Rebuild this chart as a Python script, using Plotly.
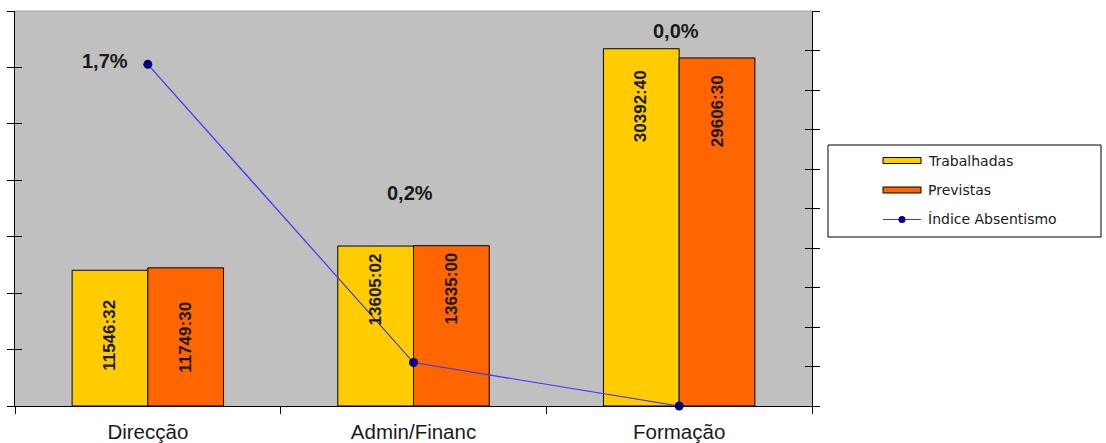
import plotly.graph_objects as go

categories = ["Direcção", "Admin/Financ", "Formação"]
trabalhadas = [11546 + 32/60, 13605 + 2/60, 30392 + 40/60]      # hours
previstas = [11749 + 30/60, 13635 + 0/60, 29606 + 30/60]        # hours
trab_labels = ["11546:32", "13605:02", "30392:40"]
prev_labels = ["11749:30", "13635:00", "29606:30"]
indice = [1.73, 0.22, 0.0]                                       # %
indice_labels = ["1,7%", "0,2%", "0,0%"]
series_names = ["Trabalhadas", "Previstas", "Índice Absentismo"]

# label placement (data units / pixel offsets)
trab_label_y = [6040, 9870, 25520]
prev_label_y = [5870, 9950, 25090]
pct_label_dx = [-43, -4, -3]
pct_label_dy = [3, 170, 375]

FONT = "Liberation Sans, Arial, sans-serif"
LEG_FONT = "DejaVu Sans, Verdana, sans-serif"
C_TRAB, C_PREV = "#FFCC00", "#FF6600"
C_LINE, C_MARK = "#3838FF", "#000080"
Y_MAX = 33600
Y2_MAX = 2.0

# plot-area pixel frame (for paper-coordinate conversion of legend items)
L, R, T, B = 15, 812, 11, 406
def px(xp): return (xp - L) / (R - L)
def py(yp): return (B - yp) / (B - T)

fig = go.Figure()
fig.add_trace(go.Bar(
    x=categories, y=trabalhadas, name=series_names[0],
    marker=dict(color=C_TRAB, line=dict(color="#000000", width=1)),
    hoverinfo="y", showlegend=False,
))
fig.add_trace(go.Bar(
    x=categories, y=previstas, name=series_names[1],
    marker=dict(color=C_PREV, line=dict(color="#000000", width=1)),
    hoverinfo="y", showlegend=False,
))
fig.add_trace(go.Scatter(
    x=categories, y=indice, name=series_names[2], yaxis="y2",
    mode="lines+markers",
    line=dict(color=C_LINE, width=1.2),
    marker=dict(color=C_MARK, size=9),
    cliponaxis=False, showlegend=False,
))
# invisible traces to activate tick-only overlay axes (crossing ticks)
fig.add_trace(go.Scatter(x=[categories[0]], y=[0], yaxis="y3", mode="markers",
                         marker=dict(opacity=0), showlegend=False, hoverinfo="skip"))
fig.add_trace(go.Scatter(x=[categories[0]], y=[0], yaxis="y4", mode="markers",
                         marker=dict(opacity=0), showlegend=False, hoverinfo="skip"))

annotations = []
for i, c in enumerate(categories):
    annotations.append(dict(
        x=c, y=trab_label_y[i], xref="x", yref="y", text=trab_labels[i],
        textangle=-90, showarrow=False, xshift=-38,
        font=dict(family=FONT, size=17, color="#1a1a1a", weight="bold"),
    ))
    annotations.append(dict(
        x=c, y=prev_label_y[i], xref="x", yref="y", text=prev_labels[i],
        textangle=-90, showarrow=False, xshift=38,
        font=dict(family=FONT, size=17, color="#1a1a1a", weight="bold"),
    ))
    annotations.append(dict(
        x=c, y=indice[i], xref="x", yref="y2", text=indice_labels[i],
        showarrow=False, xshift=pct_label_dx[i], yshift=pct_label_dy[i],
        font=dict(family=FONT, size=20, color="#1a1a1a", weight="bold"),
    ))

shapes = [
    # top border of plot area
    dict(type="line", xref="paper", yref="paper", x0=0, x1=1, y0=1, y1=1,
         line=dict(color="#A0A0A0", width=1)),
    # legend frame
    dict(type="rect", xref="paper", yref="paper",
         x0=px(828), x1=px(1101), y0=py(237), y1=py(145),
         line=dict(color="#000000", width=1), fillcolor="#FFFFFF"),
]

# manual legend (swatches + names)
row_y = [160.5, 190, 219.5]
sw_x0, sw_x1, txt_x = 883, 921, 926
for k, col in enumerate([C_TRAB, C_PREV]):
    shapes.append(dict(type="rect", xref="paper", yref="paper",
                       x0=px(sw_x0), x1=px(sw_x1),
                       y0=py(row_y[k] + 3), y1=py(row_y[k] - 3),
                       line=dict(color="#000000", width=1), fillcolor=col))
shapes.append(dict(type="line", xref="paper", yref="paper",
                   x0=px(sw_x0), x1=px(sw_x1), y0=py(row_y[2]), y1=py(row_y[2]),
                   line=dict(color=C_LINE, width=1.2)))
shapes.append(dict(type="circle", xref="paper", yref="paper",
                   x0=px(902 - 3.5), x1=px(902 + 3.5),
                   y0=py(row_y[2] + 3.5), y1=py(row_y[2] - 3.5),
                   line=dict(color=C_MARK, width=0), fillcolor=C_MARK))
for k, name in enumerate(series_names):
    annotations.append(dict(
        x=px(txt_x), y=py(row_y[k]), xref="paper", yref="paper", text=name,
        xanchor="left", yanchor="middle", showarrow=False,
        font=dict(family=LEG_FONT, size=14, color="#1a1a1a"),
    ))

fig.update_layout(
    width=1106, height=443,
    margin=dict(l=L, r=1106 - R, t=T, b=443 - B, autoexpand=False),
    paper_bgcolor="#FFFFFF", plot_bgcolor="#C0C0C0",
    barmode="group", bargap=0.43, bargroupgap=0,
    font=dict(family=FONT, color="#1a1a1a"),
    showlegend=False,
    xaxis=dict(
        type="category", range=[-0.5, 2.5], automargin=False,
        showline=True, linecolor="#000000", linewidth=1,
        ticks="outside", ticklen=7, tickcolor="#000000", tickson="boundaries",
        tickfont=dict(family=FONT, size=20.5, color="#1a1a1a"),
        showgrid=False, ticklabelstandoff=7,
    ),
    yaxis=dict(
        range=[0, Y_MAX], dtick=4800, tick0=0, automargin=False,
        showline=True, linecolor="#000000", linewidth=1,
        ticks="outside", ticklen=7, tickcolor="#000000",
        showticklabels=False, showgrid=False, zeroline=False,
    ),
    yaxis3=dict(
        range=[0, Y_MAX], dtick=4800, tick0=0, overlaying="y", side="left",
        automargin=False,
        ticks="inside", ticklen=7, tickcolor="#000000",
        showticklabels=False, showgrid=False, zeroline=False, showline=False,
    ),
    yaxis2=dict(
        range=[0, Y2_MAX], dtick=0.2, tick0=0, overlaying="y", side="right",
        automargin=False,
        showline=True, linecolor="#000000", linewidth=1,
        ticks="outside", ticklen=7, tickcolor="#000000",
        showticklabels=False, showgrid=False, zeroline=False,
    ),
    yaxis4=dict(
        range=[0, Y2_MAX], dtick=0.2, tick0=0, overlaying="y", side="right",
        automargin=False,
        ticks="inside", ticklen=7, tickcolor="#000000",
        showticklabels=False, showgrid=False, zeroline=False, showline=False,
    ),
    annotations=annotations,
    shapes=shapes,
)

fig.write_html("out.html", config={"displayModeBar": False},
               post_script="document.body.style.margin='0';document.body.style.padding='0';")
